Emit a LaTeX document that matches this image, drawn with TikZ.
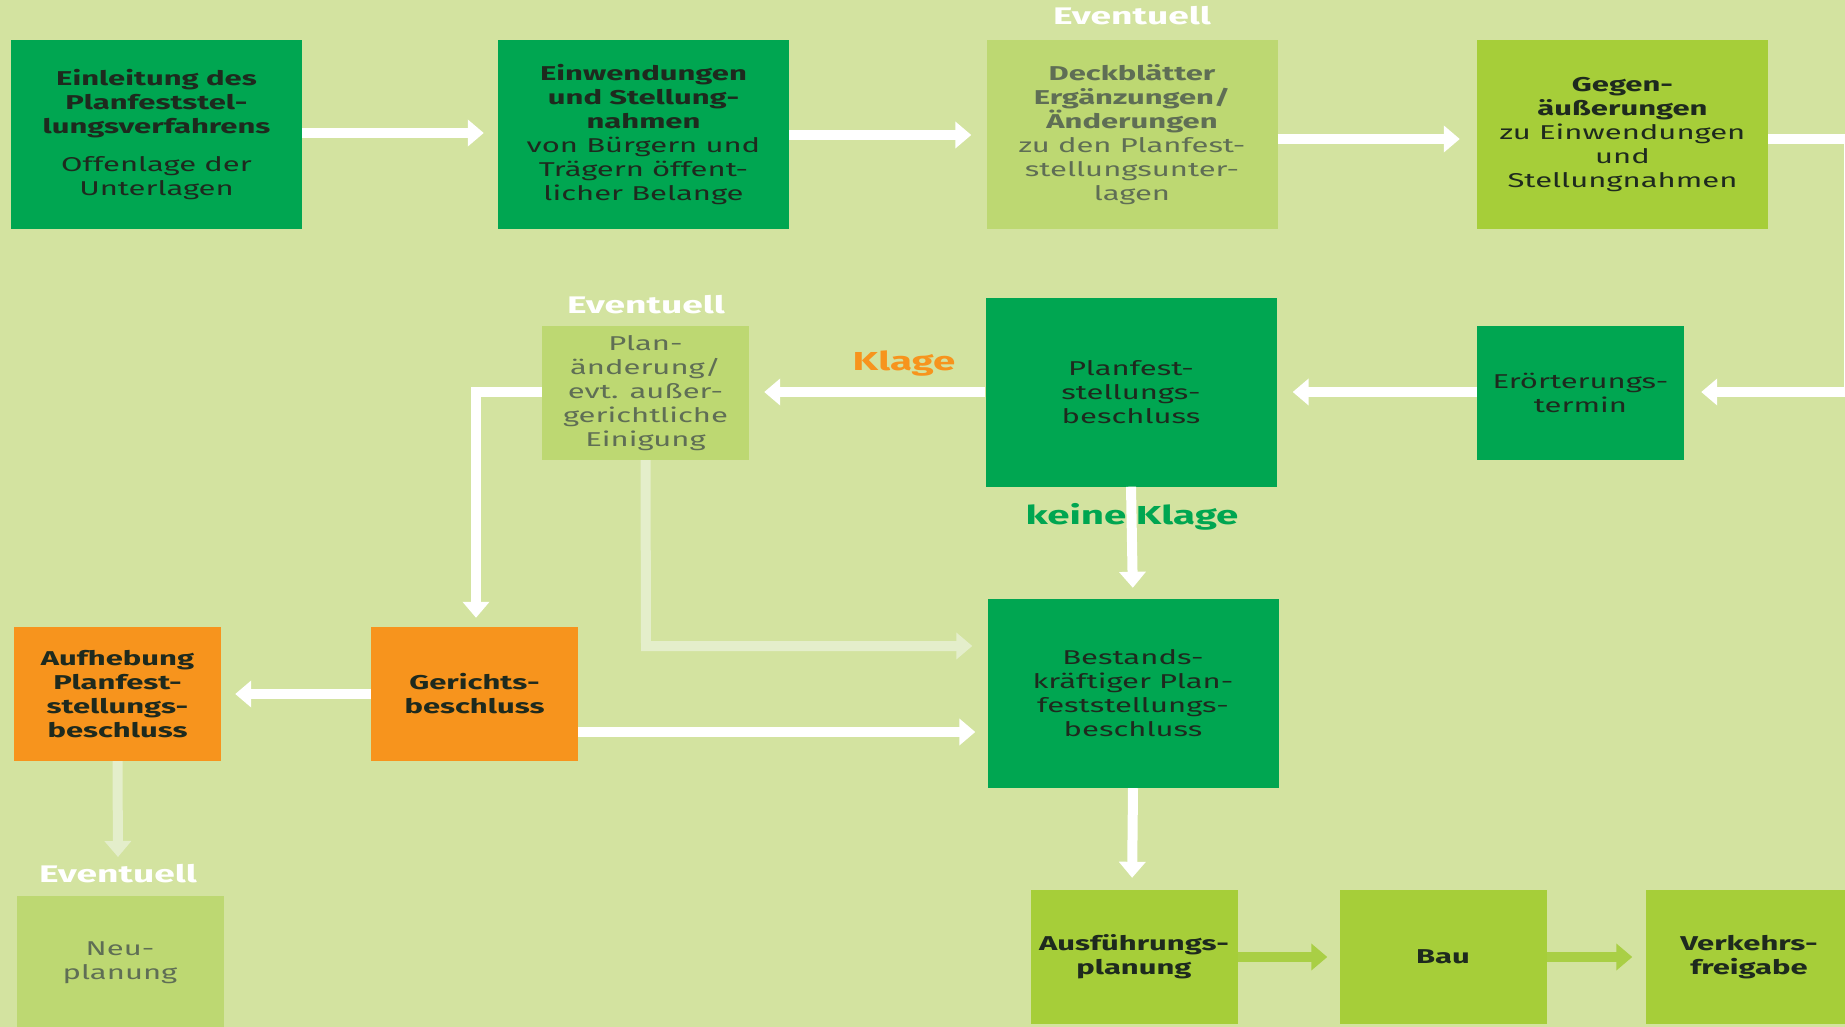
\documentclass[tikz,border=0pt]{standalone}
\usepackage{fontspec}
\setmainfont{Fira Sans}[FakeStretch=1.55]
\usetikzlibrary{arrows.meta}
\definecolor{bg}{HTML}{D3E3A0}
\definecolor{dgreen}{HTML}{00A651}
\definecolor{lgreen}{HTML}{BDD872}
\definecolor{ygreen}{HTML}{A6CE39}
\definecolor{orng}{HTML}{F7941D}
\definecolor{txtdark}{HTML}{1E2A1E}
\definecolor{txtgrey}{HTML}{5F6E55}
\definecolor{faint}{HTML}{E4EECB}
\definecolor{ygarrow}{HTML}{A9CF45}
\begin{document}
\begin{tikzpicture}[x=1pt,y=-1pt,
  box/.style={rectangle, inner sep=0pt, align=center, text=txtdark,
    font=\fontsize{20}{24}\selectfont},
  dg/.style={box, fill=dgreen},
  lg/.style={box, fill=lgreen, text=txtgrey},
  yg/.style={box, fill=ygreen},
  og/.style={box, fill=orng},
  big/.style={minimum width=291pt, minimum height=189pt},
  small/.style={minimum width=207pt, minimum height=134pt},
  arr/.style={draw=white, line width=10pt, line join=miter,
    -{Triangle[width=26pt,length=16pt]}},
  farr/.style={arr, draw=faint},
  yarr/.style={arr, draw=ygarrow},
  evt/.style={text=white, font=\fontsize{24}{26}\selectfont\bfseries, inner sep=0pt},
  lbl/.style={font=\fontsize{26}{28}\selectfont\bfseries, inner sep=0pt}
]
\fill[bg] (0,0) rectangle (1845,1027);
\useasboundingbox (0,0) rectangle (1845,1027);

% row 1
\node[dg,big] (b1) at (156.5,134.5) {\textbf{Einleitung des}\\\textbf{Planfeststel-}\\\textbf{lungsverfahrens}\\[14pt]Offenlage der\\Unterlagen};
\node[dg,big] (b2) at (643.5,134.5) {\textbf{Einwendungen}\\\textbf{und Stellung-}\\\textbf{nahmen}\\von Bürgern und\\Trägern öffent-\\licher Belange};
\node[lg,big] (b3) at (1132,134.5) {\textbf{Deckblätter}\\\textbf{Ergänzungen/}\\\textbf{Änderungen}\\zu den Planfest-\\stellungsunter-\\lagen};
\node[yg,big] (b4) at (1622.5,134.5) {\textbf{Gegen-}\\\textbf{äußerungen}\\zu Einwendungen\\und\\Stellungnahmen};
\node[evt] (e1) at (1132,16) {Eventuell};

% row 2
\node[lg,small] (pa) at (645.5,393) {Plan-\\änderung/\\evt. außer-\\gerichtliche\\Einigung};
\node[evt] (e2) at (646,305) {Eventuell};
\node[dg,big] (pf) at (1131,392) {Planfest-\\stellungs-\\beschluss};
\node[dg,small] (er) at (1580.5,392.5) {Erörterungs-\\termin};

% row 3
\node[og,small] (au) at (117.5,694) {\textbf{Aufhebung}\\\textbf{Planfest-}\\\textbf{stellungs-}\\\textbf{beschluss}};
\node[og,small] (ge) at (474.5,694) {\textbf{Gerichts-}\\\textbf{beschluss}};
\node[dg,big] (be) at (1133,693.5) {Bestands-\\kräftiger Plan-\\feststellungs-\\beschluss};

% row 4
\node[evt] (e3) at (118,874) {Eventuell};
\node[lg,small] (ne) at (120,963) {Neu-\\planung};
\node[yg,small] (af) at (1134,957) {\textbf{Ausführungs-}\\\textbf{planung}};
\node[yg,small] (ba) at (1443,957) {\textbf{Bau}};
\node[yg,small] (vk) at (1749,957) {\textbf{Verkehrs-}\\\textbf{freigabe}};

% connectors
\draw[arr, shorten >=14pt] (b1.east |- 0,133) -- (b2.west |- 0,133);
\draw[arr, shorten >=15pt] (b2.east |- 0,135) -- (b3.west |- 0,135);
\draw[arr, shorten >=17pt] (b3.east |- 0,139) -- (b4.west |- 0,139);
\draw[arr, shorten >=17pt] (b4.east |- 0,139) -- (1849,139) -- (1849,392) -- (er.east |- 0,392);
\draw[arr, shorten >=16pt] (er.west |- 0,392) -- (pf.east |- 0,392);
\draw[arr, shorten >=15pt] (pf.west |- 0,392) -- (pa.east |- 0,392);
\node[lbl, text=orng] (kl) at (904,364) {Klage};
\draw[arr, shorten >=9pt] (pa.west |- 0,392) -- (476,392) -- (ge.north -| 476,0);
\draw[farr, shorten >=15pt] (pa.south) -- (646,646) -- (be.west |- 0,646);
\draw[arr, shorten >=11pt] (pf.south) -- (be.north);
\node[lbl, text=dgreen] (kk) at (1132,517) {keine Klage};
\draw[arr, shorten >=14pt] (ge.west) -- (au.east);
\draw[arr, shorten >=12pt] (ge.east |- 0,732) -- (be.west |- 0,732);
\draw[farr, shorten >=3pt] (au.south) -- (118,860);
\draw[arr, shorten >=12pt] (be.south) -- (af.north -| 1132,0);
\draw[yarr, shorten >=12pt] (af.east) -- (ba.west);
\draw[yarr, shorten >=13pt] (ba.east) -- (vk.west);
\end{tikzpicture}
\end{document}
